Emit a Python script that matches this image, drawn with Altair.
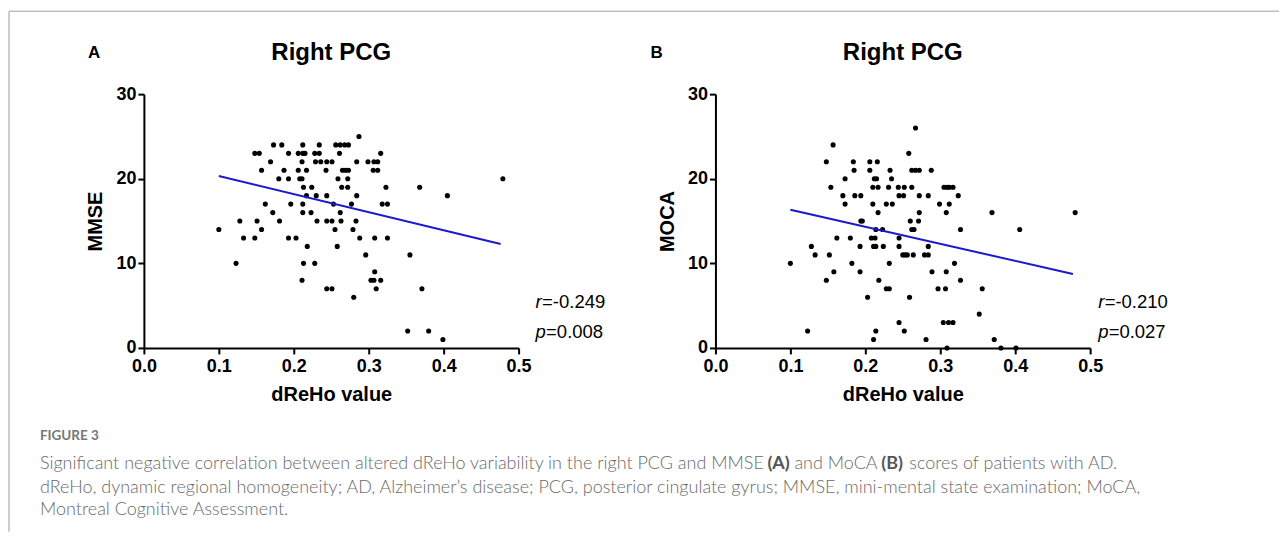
import altair as alt
import pandas as pd

# ---------------- data ----------------
x_ticks = [0.0, 0.1, 0.2, 0.3, 0.4, 0.5]
y_ticks = [0, 10, 20, 30]

mmse_x = [0.287,
          0.173, 0.184, 0.212, 0.234, 0.256, 0.262, 0.268, 0.273,
          0.148, 0.154, 0.193, 0.206, 0.212, 0.215, 0.228, 0.234, 0.261, 0.316,
          0.169, 0.211, 0.229, 0.236, 0.244, 0.251, 0.284, 0.299, 0.307, 0.312,
          0.157, 0.187, 0.206, 0.217, 0.243, 0.265, 0.269, 0.273, 0.306, 0.312,
          0.180, 0.193, 0.208, 0.211, 0.259, 0.272, 0.479,
          0.213, 0.224, 0.264, 0.272, 0.323, 0.368,
          0.217, 0.230, 0.244, 0.284, 0.405,
          0.162, 0.196, 0.212, 0.253, 0.277, 0.318, 0.325,
          0.172, 0.212, 0.223, 0.262,
          0.128, 0.151, 0.181, 0.231, 0.244, 0.251, 0.263, 0.283,
          0.100, 0.157, 0.255, 0.279,
          0.133, 0.148, 0.193, 0.203, 0.288, 0.308, 0.325,
          0.218, 0.258,
          0.296, 0.355,
          0.123, 0.213, 0.228,
          0.308,
          0.211, 0.303, 0.307, 0.316,
          0.244, 0.251, 0.310, 0.371,
          0.280,
          0.352, 0.380,
          0.399]
mmse_y = ([25] + [24] * 8 + [23] * 10 + [22] * 10 + [21] * 10 + [20] * 7 + [19] * 6 +
          [18] * 5 + [17] * 7 + [16] * 4 + [15] * 8 + [14] * 4 + [13] * 7 + [12] * 2 +
          [11] * 2 + [10] * 3 + [9] + [8] * 4 + [7] * 4 + [6] + [2] * 2 + [1])

moca_x = [0.267,
          0.157,
          0.258,
          0.148, 0.184, 0.206, 0.216,
          0.185, 0.206, 0.233, 0.262, 0.267, 0.272, 0.288,
          0.173, 0.212, 0.215, 0.235,
          0.154, 0.210, 0.217, 0.231, 0.244, 0.252, 0.262, 0.305, 0.309, 0.312, 0.317,
          0.170, 0.186, 0.194, 0.245, 0.251, 0.272, 0.284, 0.324,
          0.173, 0.210, 0.228, 0.236, 0.299, 0.312,
          0.217, 0.272, 0.308, 0.369, 0.480,
          0.194, 0.196, 0.260, 0.271,
          0.214, 0.223, 0.262, 0.265, 0.327, 0.406,
          0.162, 0.180, 0.208, 0.213, 0.245,
          0.128, 0.193, 0.211, 0.214, 0.224, 0.245, 0.284,
          0.133, 0.152, 0.250, 0.253, 0.256, 0.264, 0.279, 0.284,
          0.100, 0.182, 0.232, 0.319,
          0.158, 0.193, 0.289, 0.308,
          0.148, 0.218, 0.327,
          0.228, 0.232, 0.297, 0.307, 0.356,
          0.203, 0.259,
          0.352,
          0.245, 0.304, 0.311, 0.317,
          0.123, 0.214, 0.252,
          0.211, 0.281, 0.372,
          0.309, 0.381, 0.401]
moca_y = ([26] + [24] + [23] + [22] * 4 + [21] * 7 + [20] * 4 + [19] * 11 + [18] * 8 +
          [17] * 6 + [16] * 5 + [15] * 4 + [14] * 6 + [13] * 5 + [12] * 7 + [11] * 8 +
          [10] * 4 + [9] * 4 + [8] * 3 + [7] * 5 + [6] * 2 + [4] + [3] * 4 + [2] * 3 +
          [1] * 3 + [0] * 3)

fit_x_a = [0.100, 0.476]
fit_y_a = [20.33, 12.28]
fit_x_b = [0.100, 0.477]
fit_y_b = [16.34, 8.74]

caption_head = "FIGURE 3"
cap1_parts = ["Significant negative correlation between altered dReHo variability in the right PCG and MMSE",
              "(A)", "and MoCA", "(B)", "scores of patients with AD."]
cap2 = "dReHo, dynamic regional homogeneity; AD, Alzheimer\u2019s disease; PCG, posterior cingulate gyrus; MMSE, mini-mental state examination; MoCA,"
cap3 = "Montreal Cognitive Assessment."

FONT = "Liberation Sans"
CAPFONT = "Lato"
W, H = 375, 254


def txt(s, x, y, size, weight="normal", style="normal", align="left", color="black",
        font=FONT):
    return alt.Chart(pd.DataFrame({"t": [s]})).mark_text(
        font=font, fontSize=size, fontWeight=weight, fontStyle=style, align=align,
        baseline="middle", color=color
    ).encode(text="t:N", x=alt.value(x), y=alt.value(y))


def panel(xs, ys, fx, fy, ytitle, letter, letter_x, rval, pval, stat_x, extra=None):
    df = pd.DataFrame({"x": xs, "y": ys})
    fit = pd.DataFrame({"x": fx, "y": fy})
    xenc = alt.X("x:Q", scale=alt.Scale(domain=[0, 0.5], nice=False, zero=False),
                 axis=alt.Axis(values=x_ticks, format=".1f", title="dReHo value",
                               titleFontSize=20, titlePadding=9, labelPadding=4,
                               labelFlush=False))
    yenc = alt.Y("y:Q", scale=alt.Scale(domain=[0, 30], nice=False),
                 axis=alt.Axis(values=y_ticks, title=ytitle, titleFontSize=20,
                               titlePadding=10, labelPadding=2, labelFlush=False))
    pts = alt.Chart(df).mark_circle(size=26, color="black", opacity=1).encode(x=xenc, y=yenc)
    line = alt.Chart(fit).mark_line(color="#1a1acc", strokeWidth=2).encode(x="x:Q", y="y:Q")
    layers = [pts, line,
              txt(letter, letter_x, -41, 17, weight="bold"),
              txt("Right PCG", W / 2, -41, 24, weight="bold", align="center"),
              txt("r", stat_x, 208, 18.5, style="italic"),
              txt(rval, stat_x + 6.5, 208, 18.5),
              txt("p", stat_x, 238, 18.5, style="italic"),
              txt(pval, stat_x + 10.5, 238, 18.5)]
    if extra:
        layers += extra
    return alt.layer(*layers).properties(width=W, height=H)


frame = [
    alt.Chart(pd.DataFrame({"a": [0]})).mark_rule(color="#bdbdbd", strokeWidth=1.5).encode(
        x=alt.value(-135), y=alt.value(-83), y2=alt.value(438)),
    alt.Chart(pd.DataFrame({"a": [0]})).mark_rule(color="#bdbdbd", strokeWidth=1.5).encode(
        x=alt.value(-135), x2=alt.value(1136), y=alt.value(-83)),
]
capc = "#6a6a6a"
CS = 18
caption = [
    txt(caption_head, -104, 342, 13.5, weight="bold", color="#777777", font=CAPFONT),
    txt(cap1_parts[0], -104, 370, CS, weight=300, color=capc, font=CAPFONT),
    txt(cap1_parts[1], 624, 370, CS, weight="bold", color="#555555", font=CAPFONT),
    txt(cap1_parts[2], 651, 370, CS, weight=300, color=capc, font=CAPFONT),
    txt(cap1_parts[3], 738, 370, CS, weight="bold", color="#555555", font=CAPFONT),
    txt(cap1_parts[4], 766, 370, CS, weight=300, color=capc, font=CAPFONT),
    txt(cap2, -104, 394, CS, weight=300, color=capc, font=CAPFONT),
    txt(cap3, -104, 416, CS, weight=300, color=capc, font=CAPFONT),
]

pA = panel(mmse_x, mmse_y, fit_x_a, fit_y_a, "MMSE", "A", -56, "=-0.249", "=0.008", 392,
           frame + caption)
pB = panel(moca_x, moca_y, fit_x_b, fit_y_b, "MOCA", "B", -65, "=-0.210", "=0.027", 383)

chart = alt.hconcat(pA, pB, spacing=197, bounds="flush").properties(
    padding={"left": 0, "top": 2, "right": 0, "bottom": 0}
).configure_view(stroke=None).configure_axis(
    domainColor="black", domainWidth=2, tickColor="black", tickWidth=2, tickSize=6,
    labelFont=FONT, labelFontWeight="bold", labelFontSize=18, labelColor="black",
    titleFont=FONT, titleFontWeight="bold", titleColor="black", grid=False
)

chart.save("out.html", embed_options={"renderer": "svg", "actions": False})
